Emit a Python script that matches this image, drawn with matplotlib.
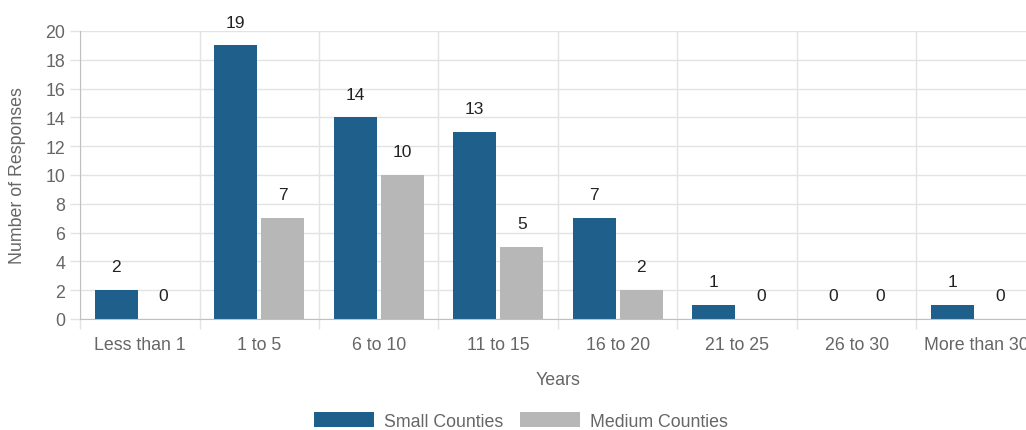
import matplotlib
matplotlib.use("Agg")
import matplotlib.pyplot as plt
import numpy as np
from matplotlib.patches import Patch

categories = ["Less than 1", "1 to 5", "6 to 10", "11 to 15", "16 to 20",
              "21 to 25", "26 to 30", "More than 30"]
small_counties = [2, 19, 14, 13, 7, 1, 0, 1]
medium_counties = [0, 7, 10, 5, 2, 0, 0, 0]
series_names = ["Small Counties", "Medium Counties"]
y_ticks = list(range(0, 21, 2))

plt.rcParams['font.family'] = ['Liberation Sans', 'DejaVu Sans']

W, H = 1026, 431
fig = plt.figure(figsize=(W / 100, H / 100), dpi=100)
ax = fig.add_axes([80 / W, 1 - 320 / H, 956 / W, 288 / H])

c_small = "#1f5f8b"
c_med = "#b7b7b7"
grid_c = "#e3e3e3"
axis_c = "#c0c0c0"
tick_c = "#666666"
FS = 12.8

x = np.arange(len(categories))
bw = 0.36
off = 0.197
b1 = ax.bar(x - off, small_counties, bw, color=c_small, zorder=3)
b2 = ax.bar(x + off, medium_counties, bw, color=c_med, zorder=3)

for bars, vals in ((b1, small_counties), (b2, medium_counties)):
    for r, v in zip(bars, vals):
        ax.annotate(str(v), (r.get_x() + r.get_width() / 2, v),
                    xytext=(0, 13.5), textcoords="offset points",
                    ha="center", va="baseline", fontsize=12.5, color="#222222",
                    annotation_clip=False)

ax.set_xlim(-0.5, len(categories) - 0.5)
ax.set_ylim(0, 20)
ax.set_yticks(y_ticks)
ax.set_xticks(x)
ax.set_xticklabels(categories)
ax.set_xticks(np.arange(-0.5, len(categories) + 0.5, 1), minor=True)

ax.tick_params(axis="x", which="major", length=0, pad=12.5, labelsize=FS, labelcolor=tick_c)
ax.tick_params(axis="x", which="minor", length=7.5, color=grid_c, width=1)
ax.tick_params(axis="y", which="major", length=7.5, color=grid_c, width=1, pad=3,
               labelsize=FS, labelcolor=tick_c)

ax.grid(True, axis="y", which="major", color=grid_c, linewidth=1, zorder=0)
ax.grid(True, axis="x", which="minor", color=grid_c, linewidth=1, zorder=0)
ax.set_axisbelow(True)

for s in ("top", "right"):
    ax.spines[s].set_visible(False)
ax.spines["left"].set_color(axis_c)
ax.spines["bottom"].set_color(axis_c)
ax.spines["left"].set_zorder(4)
ax.spines["bottom"].set_zorder(4)

ax.set_xlabel("Years", fontsize=FS, color=tick_c, labelpad=13)
fig.text(18 / W, 1 - 176 / H, "Number of Responses", rotation=90,
         ha="center", va="center", fontsize=FS, color=tick_c)

handles = [Patch(facecolor=c_small), Patch(facecolor=c_med)]
fig.legend(handles, series_names, loc="center", bbox_to_anchor=(521 / W, 1 - 422 / H),
           ncol=2, frameon=False, fontsize=FS, handlelength=3.37, handleheight=0.95,
           handletextpad=0.56, columnspacing=0.95, labelcolor=tick_c)

fig.savefig("out.png", dpi=100)
